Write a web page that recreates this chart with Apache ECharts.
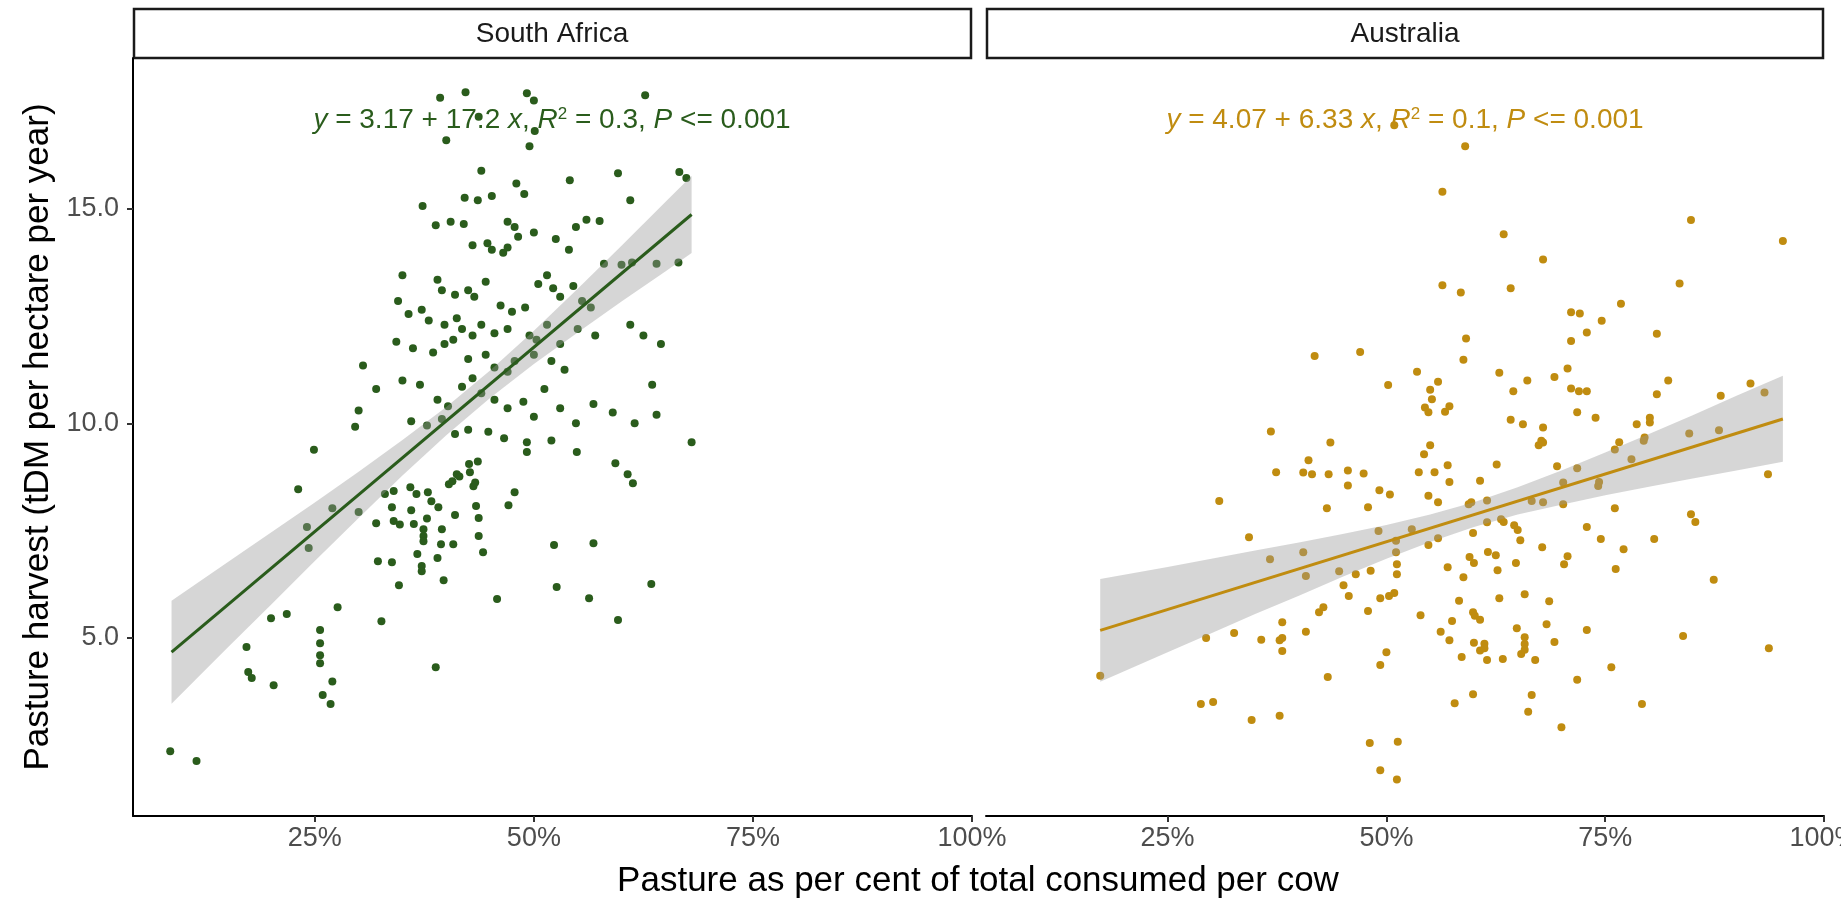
<!DOCTYPE html>
<html><head><meta charset="utf-8">
<script src="https://cdn.jsdelivr.net/npm/echarts@6/dist/echarts.min.js"></script>
<style>html,body{margin:0;padding:0;background:#fff}#c{width:1841px;height:898px}</style>
</head><body><div id="c"></div>
<script>
// ---------------- DATA ----------------
const panels = ['South Africa', 'Australia'];
const xTitle = 'Pasture as per cent of total consumed per cow';
const yTitle = 'Pasture harvest (tDM per hectare per year)';
const xTicks = [0.25, 0.5, 0.75, 1.0];
const xTickLabels = ['25%', '50%', '75%', '100%'];
const yTicks = [5, 10, 15];
const yTickLabels = ['5.0', '10.0', '15.0'];

// South Africa points [share of pasture, harvest]
const saPoints = [
[0.249,9.38],[0.231,8.46],[0.270,8.02],[0.300,7.93],[0.241,7.58],[0.243,7.09],[0.320,7.67],[0.330,8.35],[0.340,8.42],[0.338,8.04],
[0.340,7.72],[0.347,7.64],[0.322,6.78],[0.338,6.76],[0.346,6.22],[0.326,5.38],[0.359,8.51],[0.360,7.97],[0.363,7.65],[0.366,8.35],
[0.379,8.39],[0.383,8.18],[0.391,8.04],[0.378,7.78],[0.374,7.53],[0.374,7.37],[0.374,7.25],[0.367,6.95],[0.372,6.67],[0.372,6.55],
[0.390,6.86],[0.394,7.18],[0.395,7.53],[0.397,6.34],[0.388,4.31],[0.408,7.18],[0.410,7.86],[0.403,8.58],[0.407,8.65],[0.412,8.81],
[0.415,8.76],[0.427,8.86],[0.426,9.05],[0.436,9.11],[0.431,8.53],[0.433,8.62],[0.434,8.07],[0.437,7.79],[0.437,7.37],[0.442,6.99],
[0.458,5.90],[0.471,8.09],[0.478,8.39],[0.492,9.56],[0.492,9.33],[0.523,7.16],[0.526,6.18],[0.549,9.33],[0.563,5.92],[0.568,7.20],
[0.593,9.07],[0.607,8.81],[0.613,8.60],[0.596,5.41],[0.634,6.25],[0.680,9.56],[0.172,4.78],[0.174,4.20],[0.178,4.06],[0.203,3.89],
[0.200,5.45],[0.218,5.55],[0.256,5.18],[0.256,4.87],[0.256,4.59],[0.256,4.40],[0.259,3.66],[0.268,3.45],[0.270,3.98],[0.276,5.71],
[0.085,2.35],[0.115,2.12],
[0.393,17.59],[0.400,16.60],[0.422,17.72],[0.437,17.15],[0.492,17.70],[0.500,17.53],[0.501,16.82],[0.495,16.46],[0.627,17.65],
[0.440,15.89],[0.480,15.59],[0.489,15.35],[0.541,15.67],[0.596,15.83],[0.666,15.86],[0.674,15.72],[0.610,15.20],[0.421,15.26],[0.436,15.20],[0.452,15.30],
[0.373,15.07],[0.388,14.62],[0.405,14.70],[0.420,14.65],[0.470,14.70],[0.478,14.58],[0.482,14.35],[0.500,14.45],[0.548,14.58],[0.560,14.75],[0.575,14.72],
[0.430,14.15],[0.447,14.20],[0.452,14.05],[0.465,13.98],[0.470,14.10],[0.525,14.30],[0.540,14.05],[0.580,13.72],[0.600,13.70],[0.612,13.75],[0.640,13.72],[0.665,13.75],
[0.350,13.45],[0.390,13.35],[0.395,13.10],[0.410,13.00],[0.425,13.10],[0.432,12.95],[0.445,13.30],[0.462,12.75],[0.475,12.60],[0.490,12.70],[0.505,13.25],[0.515,13.45],[0.522,13.15],[0.530,12.95],[0.545,13.20],[0.555,12.85],[0.565,12.70],
[0.345,12.85],[0.357,12.55],[0.372,12.65],[0.380,12.40],[0.398,12.30],[0.412,12.45],[0.418,12.20],[0.430,12.05],[0.440,12.30],[0.455,12.10],[0.470,12.20],[0.495,12.05],[0.503,11.95],[0.515,12.30],[0.530,11.85],[0.550,12.20],[0.570,12.05],[0.610,12.30],[0.625,12.05],[0.645,11.85],
[0.343,11.90],[0.362,11.75],[0.385,11.65],[0.398,11.85],[0.408,11.95],[0.425,11.50],[0.445,11.60],[0.455,11.30],[0.470,11.20],[0.478,11.45],[0.500,11.60],[0.520,11.45],[0.535,11.25],
[0.305,11.35],[0.320,10.80],[0.350,11.00],[0.370,10.90],[0.390,10.55],[0.402,10.40],[0.418,10.85],[0.430,11.05],[0.440,10.70],[0.455,10.55],[0.470,10.35],[0.488,10.50],[0.500,10.15],[0.512,10.80],[0.530,10.35],[0.548,10.00],[0.568,10.45],[0.590,10.25],[0.615,10.00],[0.635,10.90],[0.640,10.20],
[0.296,9.92],[0.300,10.30],[0.360,10.05],[0.378,9.95],[0.395,10.10],[0.410,9.75],[0.425,9.85],[0.448,9.80],[0.466,9.65],[0.520,9.60]
];

// Australia points
const auPoints = [
[0.173,4.11],[0.309,8.19],[0.343,7.34],[0.367,6.83],[0.374,8.86],[0.405,8.85],[0.415,8.81],[0.411,9.14],[0.434,8.81],[0.432,8.02],
[0.405,6.99],[0.408,6.44],[0.408,5.14],[0.381,5.36],[0.381,4.99],[0.381,4.69],[0.294,4.99],[0.326,5.11],[0.357,4.95],[0.378,4.94],
[0.288,3.45],[0.302,3.50],[0.346,3.08],[0.378,3.18],[0.433,4.08],[0.423,5.59],[0.428,5.71],[0.451,6.22],[0.457,5.97],[0.446,6.55],
[0.456,8.90],[0.456,8.55],[0.474,8.83],[0.465,6.48],[0.479,8.04],[0.482,6.56],[0.479,5.62],[0.492,8.44],[0.504,8.34],[0.491,7.49],
[0.493,5.92],[0.503,5.97],[0.509,6.04],[0.500,4.66],[0.493,4.36],[0.481,2.54],[0.513,2.57],[0.493,1.91],[0.512,1.69],[0.511,7.26],
[0.511,6.99],[0.512,6.71],[0.512,6.48],[0.529,7.53],[0.537,8.86],[0.543,9.28],[0.550,9.49],[0.548,8.31],[0.559,8.16],[0.539,5.52],
[0.548,7.16],[0.559,7.32],[0.555,8.86],[0.570,9.02],[0.572,8.63],[0.570,6.64],[0.562,5.14],[0.572,4.94],[0.575,5.39],[0.583,5.86],
[0.588,6.41],[0.586,4.55],[0.578,3.47],[0.594,8.11],[0.597,8.16],[0.595,6.88],[0.600,6.74],[0.599,7.44],[0.599,5.59],[0.601,5.51],
[0.600,4.88],[0.607,4.70],[0.612,4.86],[0.612,4.75],[0.615,4.48],[0.599,3.68],[0.607,8.66],[0.607,5.42],[0.615,8.20],[0.615,7.69],
[0.616,7.00],[0.625,6.92],[0.626,9.04],[0.627,6.57],[0.629,5.92],[0.631,7.76],[0.634,7.70],[0.633,4.50],[0.646,7.62],[0.650,7.51],
[0.653,7.27],[0.648,6.74],[0.649,5.22],[0.654,4.62],[0.658,5.01],[0.658,4.85],[0.658,4.72],[0.658,6.01],[0.666,3.66],[0.662,3.27],
[0.670,4.48],[0.666,8.19],[0.679,8.16],[0.674,9.49],[0.677,9.59],[0.678,7.11],[0.683,5.31],[0.686,5.85],[0.692,4.90],[0.695,9.00],
[0.702,8.62],[0.702,8.11],[0.703,6.71],[0.707,6.90],[0.700,2.91],[0.718,8.95],[0.718,4.02],[0.729,7.58],[0.729,5.18],[0.742,8.54],
[0.743,8.63],[0.745,7.30],[0.757,4.31],[0.761,9.39],[0.761,8.02],[0.762,6.60],[0.771,7.06],[0.780,9.16],[0.792,3.45],[0.794,9.59],
[0.806,7.30],[0.839,5.04],[0.848,7.88],[0.853,7.70],[0.874,6.35],[0.936,8.81],[0.937,4.75],
[0.590,16.46],[0.564,15.40],[0.848,14.74],[0.953,14.25],[0.634,14.41],[0.679,13.82],[0.564,13.22],[0.585,13.05],[0.642,13.15],[0.835,13.26],
[0.768,12.79],[0.711,12.59],[0.721,12.56],[0.746,12.39],[0.729,12.12],[0.711,11.92],[0.809,12.09],[0.591,11.98],[0.418,11.57],[0.470,11.66],
[0.588,11.48],[0.535,11.20],[0.559,10.97],[0.550,10.78],[0.552,10.56],[0.502,10.89],[0.629,11.18],[0.661,11.00],[0.692,11.08],[0.707,11.28],
[0.645,10.75],[0.711,10.81],[0.720,10.75],[0.729,10.75],[0.822,11.00],[0.809,10.68],[0.882,10.64],[0.916,10.93],[0.932,10.72],[0.572,10.40],
[0.567,10.27],[0.544,10.37],[0.548,10.26],[0.368,9.81],[0.436,9.55],[0.642,10.08],[0.656,9.98],[0.679,9.90],[0.679,9.55],[0.718,10.26],
[0.739,10.13],[0.786,9.98],[0.801,10.13],[0.801,10.02],[0.795,9.67],[0.846,9.76],[0.880,9.84],[0.766,9.56],[0.509,16.95]
];

// Fitted lines (end points) and 95% confidence bands
const saFit = [[0.0865, 4.66], [0.68, 14.87]];
const auFit = [[0.173, 5.17], [0.953, 10.10]];
const saBandX    = [0.0865, 0.15, 0.20, 0.25, 0.30, 0.35, 0.40, 0.45, 0.50, 0.55, 0.60, 0.65, 0.68];
const saBandHigh = [5.86, 6.75, 7.45, 8.15, 8.87, 9.61, 10.38, 11.23, 12.16, 13.14, 14.14, 15.16, 15.77];
const saBandLow  = [3.46, 4.76, 5.77, 6.79, 7.79, 8.78, 9.72, 10.59, 11.38, 12.12, 12.84, 13.54, 13.97];
const auBandX    = [0.173, 0.25, 0.30, 0.35, 0.40, 0.45, 0.50, 0.55, 0.60, 0.65, 0.70, 0.75, 0.80, 0.85, 0.90, 0.953];
const auBandHigh = [6.37, 6.65, 6.84, 7.03, 7.22, 7.42, 7.63, 7.87, 8.16, 8.51, 8.90, 9.32, 9.75, 10.19, 10.64, 11.11];
const auBandLow  = [3.97, 4.66, 5.10, 5.55, 5.98, 6.42, 6.84, 7.23, 7.58, 7.87, 8.10, 8.32, 8.52, 8.71, 8.90, 9.10];

const saEq = { a: '3.17', b: '17.2', r2: '0.3', p: '0.001' };
const auEq = { a: '4.07', b: '6.33', r2: '0.1', p: '0.001' };

// ---------------- STYLE / LAYOUT ----------------
const FONT = "'Liberation Sans', Arial, sans-serif";
const colSA = '#2A5C1C';
const colAU = '#C08C10';
const bandFill = 'rgba(153,153,153,0.4)';
const X_MIN = 0.0425, X_MAX = 1.0, Y_MIN = 0.84, Y_MAX = 18.52;
const gridsPx = [
  { left: 133, top: 58, width: 839, height: 758 },
  { left: 986, top: 58, width: 838, height: 758 }
];

function tickLabel(list, labels, v) {
  for (let i = 0; i < list.length; i++) if (Math.abs(list[i] - v) < 1e-9) return labels[i];
  return '';
}

function bandSeries(idx, bx, hi, lo) {
  return {
    type: 'custom', xAxisIndex: idx, yAxisIndex: idx, z: 3, silent: true,
    data: [[bx[0], lo[0]]],
    renderItem: function (params, api) {
      const pts = [];
      for (let i = 0; i < bx.length; i++) pts.push(api.coord([bx[i], hi[i]]));
      for (let i = bx.length - 1; i >= 0; i--) pts.push(api.coord([bx[i], lo[i]]));
      return { type: 'polygon', shape: { points: pts }, style: { fill: bandFill, stroke: null } };
    }
  };
}

function eqText(e) {
  return '{i|y} = ' + e.a + ' + ' + e.b + ' {i|x}, {i|R}{s|2} = ' + e.r2 + ', {i|P} <= ' + e.p;
}
function eqGraphic(cx, e, col) {
  return {
    type: 'text', x: cx, y: 120, z: 10, silent: true,
    style: {
      text: eqText(e), fill: col, fontSize: 28, fontFamily: FONT,
      align: 'center', verticalAlign: 'middle',
      rich: {
        i: { fontStyle: 'italic', fontSize: 28, fill: col, fontFamily: FONT },
        s: { fontSize: 17, fill: col, fontFamily: FONT, verticalAlign: 'top', padding: [0, 0, 12, 0] }
      }
    }
  };
}

const chart = echarts.init(document.getElementById('c'), null, { renderer: 'canvas' });
const option = {
  animation: false,
  backgroundColor: '#ffffff',
  grid: gridsPx.map(g => Object.assign({ containLabel: false, outerBoundsMode: 'none' }, g)),
  xAxis: [0, 1].map(i => ({
    type: 'value', gridIndex: i, min: X_MIN, max: X_MAX,
    axisLine: { show: true, onZero: false, lineStyle: { color: '#000', width: 2 } },
    axisTick: { show: true, length: 6, customValues: xTicks, lineStyle: { color: '#333', width: 2 } },
    axisLabel: { show: true, customValues: xTicks, margin: 9, fontSize: 27, color: '#4D4D4D', fontFamily: FONT,
      formatter: v => tickLabel(xTicks, xTickLabels, v) },
    splitLine: { show: false }
  })),
  yAxis: [0, 1].map(i => ({
    type: 'value', gridIndex: i, min: Y_MIN, max: Y_MAX,
    axisLine: { show: i === 0, onZero: false, lineStyle: { color: '#000', width: 2 } },
    axisTick: { show: i === 0, length: 6, customValues: yTicks, lineStyle: { color: '#333', width: 2 } },
    axisLabel: { show: i === 0, customValues: yTicks, margin: 14, fontSize: 27, color: '#4D4D4D', fontFamily: FONT,
      formatter: v => tickLabel(yTicks, yTickLabels, v) },
    splitLine: { show: false }
  })),
  series: [
    { type: 'scatter', xAxisIndex: 0, yAxisIndex: 0, data: saPoints, symbolSize: 8, z: 2, silent: true,
      itemStyle: { color: colSA, opacity: 1 } },
    bandSeries(0, saBandX, saBandHigh, saBandLow),
    { type: 'line', xAxisIndex: 0, yAxisIndex: 0, data: saFit, symbol: 'none', z: 4, silent: true,
      lineStyle: { color: colSA, width: 3 } },
    { type: 'scatter', xAxisIndex: 1, yAxisIndex: 1, data: auPoints, symbolSize: 8, z: 2, silent: true,
      itemStyle: { color: colAU, opacity: 1 } },
    bandSeries(1, auBandX, auBandHigh, auBandLow),
    { type: 'line', xAxisIndex: 1, yAxisIndex: 1, data: auFit, symbol: 'none', z: 4, silent: true,
      lineStyle: { color: colAU, width: 3 } }
  ],
  graphic: [
    // facet strips
    { type: 'rect', shape: { x: 134, y: 9, width: 837, height: 49 }, style: { fill: '#fff', stroke: '#1a1a1a', lineWidth: 2.5 }, silent: true },
    { type: 'text', x: 552, y: 34, silent: true, style: { text: panels[0], fontSize: 28, fontFamily: FONT, fill: '#1a1a1a', align: 'center', verticalAlign: 'middle' } },
    { type: 'rect', shape: { x: 987, y: 9, width: 836, height: 49 }, style: { fill: '#fff', stroke: '#1a1a1a', lineWidth: 2.5 }, silent: true },
    { type: 'text', x: 1405, y: 34, silent: true, style: { text: panels[1], fontSize: 28, fontFamily: FONT, fill: '#1a1a1a', align: 'center', verticalAlign: 'middle' } },
    // equations
    eqGraphic(552, saEq, colSA),
    eqGraphic(1405, auEq, colAU),
    // axis titles
    { type: 'text', x: 978, y: 881, silent: true, style: { text: xTitle, fontSize: 35, fontFamily: FONT, fill: '#000', align: 'center', verticalAlign: 'middle' } },
    { type: 'text', x: 38, y: 437, rotation: Math.PI / 2, silent: true, style: { text: yTitle, fontSize: 35, fontFamily: FONT, fill: '#000', align: 'center', verticalAlign: 'middle' } }
  ]
};
chart.setOption(option);
</script>
</body></html>
